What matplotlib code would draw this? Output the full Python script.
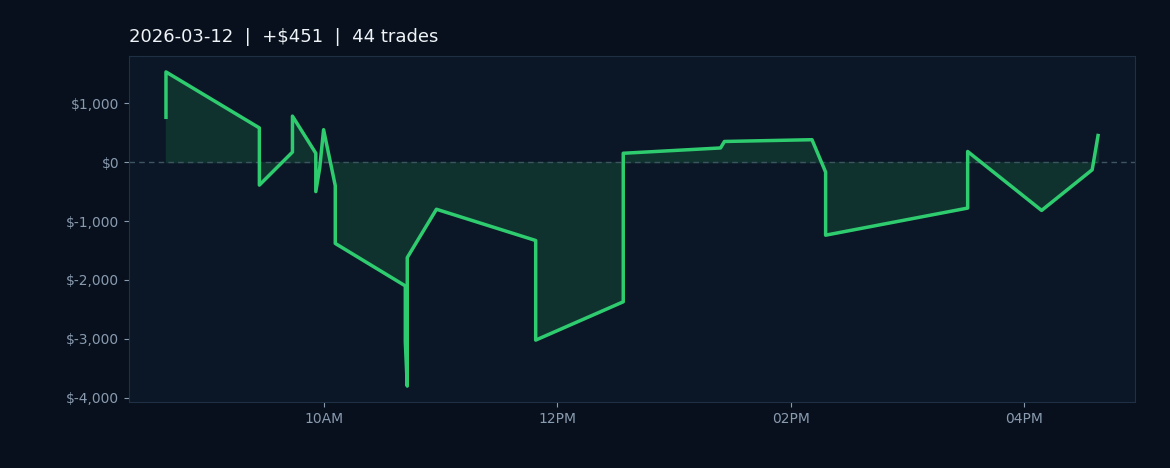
import matplotlib
matplotlib.use("Agg")
import matplotlib.pyplot as plt
import matplotlib.dates as mdates
import pandas as pd
import numpy as np

times = ["08:39","08:39","09:27","09:27","09:44","09:44","09:56","09:56","09:58","10:00",
         "10:06","10:06","10:42","10:42","10:42","10:43","10:43","10:58","11:49","11:49",
         "12:34","12:34","13:24","13:26","14:11","14:18","14:18","15:31","15:31","16:09",
         "16:35","16:38"]
pnl = [760,1530,580,-390,170,780,150,-500,-100,550,
       -400,-1380,-2100,-2400,-3050,-3800,-1620,-800,-1330,-3020,
       -2370,150,240,350,380,-170,-1240,-780,180,-820,
       -130,451]
title = "2026-03-12  |  +$451  |  44 trades"

t = pd.to_datetime(["2026-03-12 " + s for s in times])
y = np.array(pnl)

fig = plt.figure(figsize=(11.7, 4.68), dpi=100, facecolor="#07101c")
ax = fig.add_axes([129/1170, 66/468, 1006/1170, 346/468])
ax.set_facecolor("#0b1627")
ax.fill_between(t, y, 0, color="#10322f", alpha=1, zorder=1)
ax.plot(t, y, color="#2ecc6f", lw=2.5, zorder=3)
ax.axhline(0, color="#3d5560", lw=1, ls=(0, (4, 3)), zorder=2)
ax.set_xlim(pd.Timestamp("2026-03-12 08:20"), pd.Timestamp("2026-03-12 16:57"))
ax.set_ylim(-4070, 1800)
ax.set_yticks([1000, 0, -1000, -2000, -3000, -4000])
ax.yaxis.set_major_formatter(matplotlib.ticker.FuncFormatter(
    lambda v, p: f"${v:,.0f}" if v >= 0 else f"$-{abs(v):,.0f}"))
ax.xaxis.set_major_locator(mdates.HourLocator(byhour=[10, 12, 14, 16]))
ax.xaxis.set_major_formatter(mdates.DateFormatter("%I%p"))
ax.tick_params(colors="#8a9bb0", labelsize=10)
for s in ax.spines.values():
    s.set_color("#1f3045")
ax.set_title(title, loc="left", color="#f0f4f8", fontsize=13, pad=10)
fig.savefig("out.png", facecolor=fig.get_facecolor())
